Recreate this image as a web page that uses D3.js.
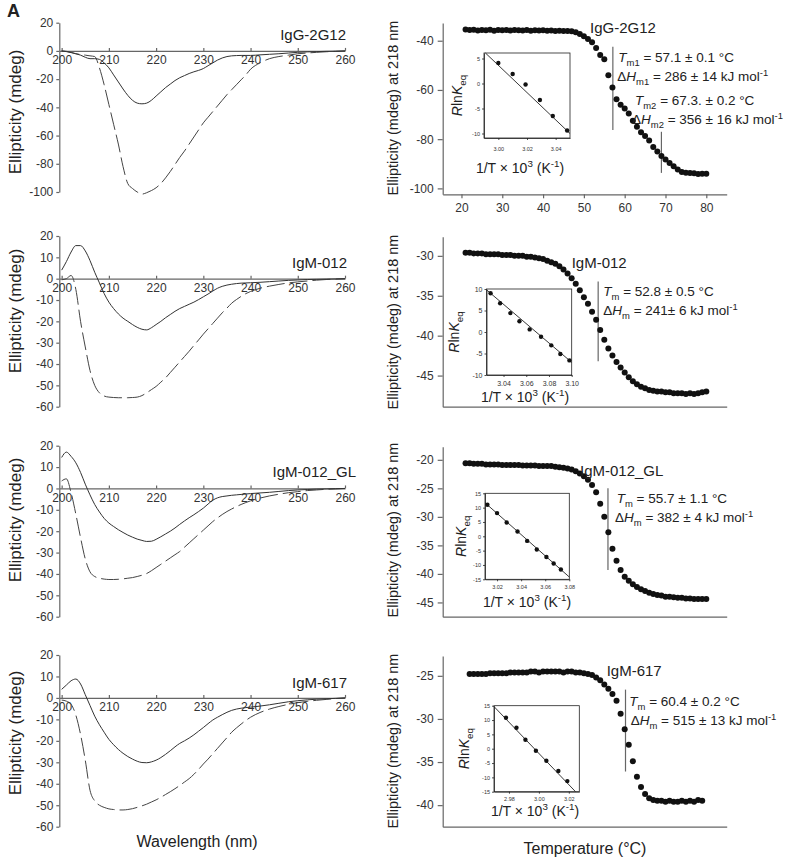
<!DOCTYPE html>
<html>
<head>
<meta charset="utf-8">
<script src="https://cdn.jsdelivr.net/npm/d3@7"></script>
<style>
  body { margin: 0; background: #fff; }
  svg text { font-family: "Liberation Sans", Arial, sans-serif; fill: #222; }
  .axis path, .axis line { stroke: #666; stroke-width: 1.2; }
  .axis text { font-size: 12px; fill: #333; }
  .inset path, .inset line { stroke: #222; stroke-width: 0.8; }
  .inset text { fill: #333; }
</style>
</head>
<body>
<svg id="fig" width="785" height="859"></svg>
<script>
// ---------- data ----------
const panelNames = ["IgG-2G12", "IgM-012", "IgM-012_GL", "IgM-617"];

const wavelength = [200,201,202,203,204,205,206,207,208,209,210,211,212,213,214,215,216,217,218,219,
  220,221,222,223,224,225,226,227,228,229,230,231,232,233,234,235,236,237,238,239,240,
  242,244,246,248,250,252,254,256,258,260];
const wlTicks = [200, 210, 220, 230, 240, 250, 260];

// solid = native, dashed = second spectrum
const cdSolid1 = [0,-0.5,-1.2,-2,-3,-4.5,-5.5,-5.5,-6,-8.5,
  -12,-17,-22,-27,-31.5,-35,-37,-37.5,-37,-35,
  -32,-29,-26,-23.5,-21,-19,-17.5,-16,-14.8,-13.8,
  -12.5,-10.5,-8.5,-6.5,-5,-4,-3.5,-3.3,-3.2,-3.2,
  -3.2,-2.8,-2.4,-2,-1.5,-1,-0.7,-0.5,-0.3,-0.2,0];
const cdDashed1 = [0,-0.3,-1,-2,-2.5,-3,-3.5,-4,-12,-24,
  -38,-52,-66,-82,-94,-97.5,-100,-101.5,-100.5,-99,
  -97,-94,-90,-85.5,-80.5,-75.5,-71,-66,-61,-56,
  -51,-47,-43,-39,-35,-31,-27.5,-24,-20.5,-17,
  -13,-8.5,-5.5,-4,-3,-2,-1.5,-1,-0.6,-0.3,0];

const cdSolid2 = [4,8,12.5,15.5,15.5,13,8.5,3,-2,-7,
  -11,-14,-16.5,-18.5,-20,-21.5,-22.8,-23.7,-24,-23,
  -21.5,-20,-18.3,-16.8,-15.3,-14,-13,-12,-11,-9.8,
  -8.5,-7.2,-5.8,-4.5,-3.6,-3,-2.6,-2.3,-2.1,-2,
  -1.9,-1.7,-1.4,-1.1,-0.8,-0.6,-0.4,-0.3,-0.2,-0.1,0];
const cdDashed2 = [-0.5,0,1.5,-5,-20,-32,-43,-50,-53.5,-55,
  -55.5,-55.7,-55.8,-55.8,-55.8,-55.7,-55.5,-54.8,-53.5,-52,
  -50.5,-48.5,-46.5,-44,-41.5,-39,-36.5,-34,-31.3,-28.7,
  -26,-23.5,-21,-18.5,-16,-13.8,-11.5,-9.8,-8.3,-7,
  -6,-4.5,-3.5,-2.7,-2,-1.5,-1.1,-0.7,-0.4,-0.2,0];

const cdSolid3 = [14.5,17,15,12,7.5,2,-3,-7.5,-11,-14,
  -16.2,-17.8,-19.3,-20.6,-21.8,-22.8,-23.7,-24.3,-24.8,-24.7,
  -23.8,-22.6,-21.3,-20,-18.5,-16.8,-15.2,-13.7,-12.3,-10.8,
  -9.2,-7.3,-5.5,-4.4,-3.8,-3.5,-3.2,-3,-2.8,-2.6,
  -2.4,-2.1,-1.8,-1.4,-1,-0.7,-0.5,-0.3,-0.2,-0.1,0];
const cdDashed3 = [3.5,4.5,-2,-12,-23,-33,-39,-41.2,-42,-42.4,
  -42.6,-42.6,-42.5,-42.3,-42,-41.7,-41.2,-40.6,-39.8,-38.5,
  -37,-35.5,-34,-32.5,-31,-29.5,-27.5,-25.5,-23.5,-21.5,
  -19.5,-17.5,-15.5,-13.8,-12.2,-10.8,-9.6,-8.5,-7.5,-6.6,
  -5.8,-4.5,-3.5,-2.7,-2,-1.5,-1,-0.7,-0.4,-0.2,0];

const cdSolid4 = [4,6,8,8.8,6.5,1.5,-3.5,-8.5,-12.5,-16,
  -19.3,-21.8,-24,-25.8,-27.3,-28.5,-29.5,-30.1,-30.2,-29.8,
  -29,-27.8,-26.3,-24.6,-22.8,-21.2,-20,-18.7,-17.2,-15.5,
  -13.8,-12,-10.3,-9,-7.8,-6.7,-5.8,-5.2,-4.8,-4.5,
  -4.3,-3.8,-3.2,-2.5,-1.8,-1.3,-0.9,-0.6,-0.4,-0.2,0];
const cdDashed4 = [-1,-1.5,-3,-8,-17,-29,-43,-48,-50,-51,
  -51.7,-52,-52.2,-52.2,-52,-51.6,-51,-50.3,-49.5,-48.5,
  -47.5,-46.3,-45,-43.7,-42.3,-40.8,-39.2,-37.6,-35.6,-33.3,
  -30.8,-28.5,-26,-23.5,-21,-18.5,-16,-14,-12.2,-10.5,
  -9,-6.8,-5.2,-4,-3,-2.2,-1.6,-1.1,-0.7,-0.3,0];

const cdTicks1 = [20, 0, -20, -40, -60, -80, -100];
const cdTicks2 = [20, 10, 0, -10, -20, -30, -40, -50, -60];

// thermal melts, ellipticity at 218 nm
const temps = [21,22,23,24,25,26,27,28,29,30,31,32,33,34,35,36,37,38,39,40,
  41,42,43,44,45,46,47,48,49,50,51,52,53,54,55,56,57,58,59,60,
  61,62,63,64,65,66,67,68,69,70,71,72,73,74,75,76,77,78,79,80];
const temps4 = [22,23,24,25,26,27,28,29,30,31,32,33,34,35,36,37,38,39,40,41,
  42,43,44,45,46,47,48,49,50,51,52,53,54,55,56,57,58,59,60,61,
  62,63,64,65,66,67,68,69,70,71,72,73,74,75,76,77,78,79];

const melt1 = [-35.4,-35.6,-35.5,-35.8,-35.6,-35.7,-35.5,-35.9,-35.6,-35.7,
  -35.6,-35.8,-35.6,-35.7,-35.8,-35.6,-35.9,-35.7,-35.8,-35.7,
  -35.9,-35.8,-36.0,-35.9,-36.1,-36.0,-36.2,-36.6,-37.3,-38.2,
  -39.3,-40.6,-43.0,-45.8,-47.5,-54.0,-59.0,-63.8,-66.0,-67.5,
  -69.6,-72.5,-75.0,-77.2,-78.7,-80.5,-83.2,-85.0,-86.8,-88.3,
  -89.7,-91.0,-92.3,-93.3,-93.6,-93.7,-93.8,-94.2,-94.0,-94.1];
const melt2 = [-29.6,-29.6,-29.7,-29.7,-29.7,-29.8,-29.8,-29.8,-29.8,-29.9,
  -29.9,-29.9,-30.0,-30.0,-30.0,-30.1,-30.1,-30.2,-30.3,-30.4,
  -30.6,-30.8,-31.0,-31.3,-31.7,-32.2,-32.8,-33.5,-34.3,-35.2,
  -36.0,-37.0,-38.0,-39.3,-40.5,-41.6,-42.5,-43.3,-44.0,-44.6,
  -45.2,-45.7,-46.1,-46.4,-46.6,-46.8,-46.9,-47.0,-47.0,-47.1,
  -47.1,-47.2,-47.2,-47.2,-47.3,-47.2,-47.3,-47.2,-47.1,-47.0];
const melt3 = [-20.6,-20.6,-20.7,-20.7,-20.7,-20.8,-20.8,-20.8,-20.8,-20.9,
  -20.9,-20.9,-20.9,-20.9,-21.0,-21.0,-21.0,-21.0,-21.1,-21.1,
  -21.1,-21.1,-21.2,-21.3,-21.4,-21.5,-21.7,-22.0,-22.4,-22.9,
  -23.5,-24.4,-25.7,-27.7,-30.0,-32.7,-35.6,-37.7,-39.3,-40.5,
  -41.2,-41.8,-42.3,-42.7,-43.0,-43.3,-43.5,-43.7,-43.8,-44.0,
  -44.0,-44.1,-44.2,-44.2,-44.3,-44.3,-44.4,-44.4,-44.4,-44.4];
const melt4 = [-24.8,-24.8,-24.8,-24.8,-24.8,-24.7,-24.7,-24.7,-24.7,-24.7,
  -24.6,-24.6,-24.6,-24.6,-24.6,-24.5,-24.5,-24.6,-24.5,-24.5,
  -24.5,-24.5,-24.5,-24.6,-24.5,-24.5,-24.6,-24.6,-24.7,-24.8,
  -24.9,-25.2,-25.5,-26.0,-26.5,-27.1,-27.9,-29.4,-31.2,-33.0,
  -34.9,-36.7,-37.9,-38.7,-39.2,-39.4,-39.5,-39.5,-39.6,-39.5,
  -39.6,-39.6,-39.5,-39.6,-39.5,-39.6,-39.4,-39.5];

const meltTicks1 = [-40, -60, -80, -100];
const meltTicks2 = [-30, -35, -40, -45];
const meltTicks3 = [-20, -25, -30, -35, -40, -45];
const meltTicks4 = [-25, -30, -35, -40];
const tempTicks = [20, 30, 40, 50, 60, 70, 80];

// Tm marker lines: temperature, top and bottom ellipticity
const tmLineT1 = [57.1, 69.0], tmLineTop1 = [-42.4, -77.0], tmLineBot1 = [-76.3, -93.7];
const tmLineT2 = [53.5], tmLineTop2 = [-33.2], tmLineBot2 = [-43.2];
const tmLineT3 = [55.9], tmLineTop3 = [-25.0], tmLineBot3 = [-39.3];
const tmLineT4 = [60.2], tmLineTop4 = [-26.6], tmLineBot4 = [-36.1];

// van't Hoff insets: 1/T x 10^3 and R ln Keq
const vhX1 = [3.000, 3.010, 3.019, 3.029, 3.038, 3.048];
const vhY1 = [4.1, 1.9, -0.2, -3.3, -6.5, -9.4];
const fitX1 = [2.991, 3.05], fitY1 = [6.1, -10.0];
const vhX2 = [3.0286, 3.037, 3.046, 3.054, 3.063, 3.073, 3.082, 3.090, 3.098];
const vhY2 = [9.0, 6.7, 4.4, 2.5, 0.6, -1.1, -3.1, -5.1, -6.6];
const fitX2 = [3.025, 3.10], fitY2 = [9.8, -7.05];
const vhX3 = [3.012, 3.020, 3.028, 3.037, 3.045, 3.053, 3.061, 3.067, 3.073];
const vhY3 = [11.0, 8.1, 4.8, 1.7, -1.6, -4.6, -7.2, -9.5, -11.6];
const fitX3 = [3.01, 3.08], fitY3 = [11.7, -14.2];
const vhX4 = [2.978, 2.985, 2.991, 2.998, 3.005, 3.013, 3.019];
const vhY4 = [10.8, 7.3, 3.1, -0.7, -4.2, -7.8, -11.3];
const fitX4 = [2.97, 3.0245], fitY4 = [14.7, -15.0];

const insetXTicks1 = [3.00, 3.02, 3.04], insetYTicks1 = [5, 0, -5, -10];
const insetXTicks2 = [3.04, 3.06, 3.08, 3.10], insetYTicks2 = [10, 5, 0, -5, -10];
const insetXTicks3 = [3.02, 3.04, 3.06, 3.08], insetYTicks3 = [15, 10, 5, 0, -5, -10, -15];
const insetXTicks4 = [2.98, 3.00, 3.02], insetYTicks4 = [15, 10, 5, 0, -5, -10, -15];

// fitted parameters as printed
const tmText1 = ["m1", "57.1 ± 0.1", "m2", "67.3. ± 0.2"];
const dhText1 = ["m1", "286 ± 14", "m2", "356 ± 16"];
const tmText2 = ["m", "52.8 ± 0.5"], dhText2 = ["m", "241± 6"];
const tmText3 = ["m", "55.7 ± 1.1"], dhText3 = ["m", "382 ± 4"];
const tmText4 = ["m", "60.4 ± 0.2"], dhText4 = ["m", "515 ± 13"];

// ---------- layout ----------
const cdLayout = [
  {top: 22.7, bottom: 192, yMin: -100, yMax: 20, labelX: 346, labelY: 40, titleY: 112},
  {top: 236, bottom: 406.7, yMin: -60, yMax: 20, labelX: 347, labelY: 268, titleY: 311},
  {top: 445.7, bottom: 616.7, yMin: -60, yMax: 20, labelX: 356, labelY: 476.5, titleY: 520},
  {top: 655, bottom: 826.7, yMin: -60, yMax: 20, labelX: 347, labelY: 688, titleY: 733}
];
const meltLayout = [
  {top: 23, bottom: 194.3, yDom: [-102.4, -32.8], titleY: 108, labelX: 590, labelY: 33,
   ann: [[618.3, 62], [617.3, 81], [635, 105], [632, 124]]},
  {top: 236.7, bottom: 406.7, yDom: [-48.9, -27.6], titleY: 322, labelX: 571.7, labelY: 268.3,
   ann: [[603.3, 296], [603.3, 315]]},
  {top: 446.7, bottom: 616.7, yDom: [-47.5, -17.7], titleY: 530, labelX: 580, labelY: 476,
   ann: [[616.7, 503], [615, 522]]},
  {top: 656, bottom: 826.7, yDom: [-42.5, -22.7], titleY: 741, labelX: 606.7, labelY: 676,
   ann: [[629.3, 706], [630.7, 725]]}
];
const insetLayout = [
  {x0: 484, x1: 570, y0: 53, y1: 138, xDom: [2.99, 3.05], yDom: [-10.9, 6.1], font: 5.5, xPad: 7, titleX: 520, titleY: 173, labX: 462},
  {x0: 486.5, x1: 571.7, y0: 289, y1: 375, xDom: [3.025, 3.10], yDom: [-10, 10], font: 7, xPad: 4, titleX: 525, titleY: 402, labX: 459},
  {x0: 485, x1: 569.3, y0: 493.3, y1: 579.3, xDom: [3.01, 3.08], yDom: [-15, 15], font: 5.5, xPad: 4, titleX: 527, titleY: 607, labX: 466},
  {x0: 494, x1: 579.3, y0: 705.7, y1: 791.7, xDom: [2.97, 3.027], yDom: [-15, 15], font: 5.5, xPad: 3, titleX: 535, titleY: 816, labX: 469}
];

const cdSets = [
  {solid: cdSolid1, dashed: cdDashed1, ticks: cdTicks1},
  {solid: cdSolid2, dashed: cdDashed2, ticks: cdTicks2},
  {solid: cdSolid3, dashed: cdDashed3, ticks: cdTicks2},
  {solid: cdSolid4, dashed: cdDashed4, ticks: cdTicks2}
];
const meltSets = [
  {t: temps, v: melt1, ticks: meltTicks1, lt: tmLineT1, lTop: tmLineTop1, lBot: tmLineBot1, tm: tmText1, dh: dhText1},
  {t: temps, v: melt2, ticks: meltTicks2, lt: tmLineT2, lTop: tmLineTop2, lBot: tmLineBot2, tm: tmText2, dh: dhText2},
  {t: temps, v: melt3, ticks: meltTicks3, lt: tmLineT3, lTop: tmLineTop3, lBot: tmLineBot3, tm: tmText3, dh: dhText3},
  {t: temps4, v: melt4, ticks: meltTicks4, lt: tmLineT4, lTop: tmLineTop4, lBot: tmLineBot4, tm: tmText4, dh: dhText4}
];
const insetSets = [
  {x: vhX1, y: vhY1, fx: fitX1, fy: fitY1, xt: insetXTicks1, yt: insetYTicks1},
  {x: vhX2, y: vhY2, fx: fitX2, fy: fitY2, xt: insetXTicks2, yt: insetYTicks2},
  {x: vhX3, y: vhY3, fx: fitX3, fy: fitY3, xt: insetXTicks3, yt: insetYTicks3},
  {x: vhX4, y: vhY4, fx: fitX4, fy: fitY4, xt: insetXTicks4, yt: insetYTicks4}
];

const svg = d3.select("#fig");

// text with italic / sub / sup pieces
function rich(sel, x, y, parts, size, anchor) {
  const t = sel.append("text").attr("x", x).attr("y", y)
    .attr("text-anchor", anchor || "start").style("font-size", size + "px");
  let shift = 0;
  parts.forEach(([s, k]) => {
    const target = k === "sub" ? size * 0.3 : k === "sup" ? -size * 0.4 : 0;
    const ts = t.append("tspan").attr("dy", target - shift).text(s);
    shift = target;
    if (k === "sub" || k === "sup") ts.style("font-size", (size * 0.7) + "px");
    if (k === "i") ts.style("font-style", "italic");
  });
  return t;
}

// ---------- left column: CD spectra ----------
const xW = d3.scaleLinear().domain([199.5, 260]).range([59.3, 345]);

cdSets.forEach((set, i) => {
  const lay = cdLayout[i];
  const y = d3.scaleLinear().domain([lay.yMin, lay.yMax]).range([lay.bottom, lay.top]);
  const g = svg.append("g");

  g.append("g").attr("class", "axis")
    .attr("transform", `translate(${xW(199.5)},0)`)
    .call(d3.axisLeft(y).tickValues(set.ticks).tickSize(3).tickPadding(3)
      .tickSizeOuter(0).tickFormat(d => String(d)));

  g.append("g").attr("class", "axis")
    .attr("transform", `translate(0,${y(0)})`)
    .call(d3.axisBottom(xW).tickValues(wlTicks).tickSize(-3).tickPadding(5).tickSizeOuter(0));

  const line = d3.line().x((d, k) => xW(wavelength[k])).y(d => y(d)).curve(d3.curveMonotoneX);
  g.append("path").datum(set.dashed).attr("d", line)
    .attr("fill", "none").attr("stroke", "#444").attr("stroke-width", 1)
    .attr("stroke-dasharray", "18,5");
  g.append("path").datum(set.solid).attr("d", line)
    .attr("fill", "none").attr("stroke", "#333").attr("stroke-width", 1);

  g.append("text").attr("x", lay.labelX).attr("y", lay.labelY)
    .attr("text-anchor", "end").style("font-size", "15px").text(panelNames[i]);

  g.append("text")
    .attr("transform", `translate(21,${lay.titleY}) rotate(-90)`)
    .attr("text-anchor", "middle").style("font-size", "17px")
    .text("Ellipticity (mdeg)");
});

// ---------- right column: thermal melts ----------
const xT = d3.scaleLinear().domain([15.4, 85]).range([442.7, 726.7]);

meltSets.forEach((set, i) => {
  const lay = meltLayout[i];
  const y = d3.scaleLinear().domain(lay.yDom).range([lay.bottom, lay.top]);
  const g = svg.append("g");

  g.append("g").attr("class", "axis")
    .attr("transform", `translate(${xT(15.4)},0)`)
    .call(d3.axisLeft(y).tickValues(set.ticks).tickSize(5).tickPadding(4)
      .tickSizeOuter(0).tickFormat(d => String(d)));

  g.append("g").attr("class", "axis")
    .attr("transform", `translate(0,${lay.bottom})`)
    .call(d3.axisBottom(xT).tickValues(i === 0 ? tempTicks : []).tickSize(4).tickPadding(5).tickSizeOuter(0));

  g.append("text")
    .attr("transform", `translate(398,${lay.titleY}) rotate(-90)`)
    .attr("text-anchor", "middle").style("font-size", "14.5px")
    .text("Ellipticity (mdeg) at 218 nm");

  // Tm marker lines
  g.selectAll("line.tm").data(set.lt).join("line").attr("class", "tm")
    .attr("x1", d => xT(d)).attr("x2", d => xT(d))
    .attr("y1", (d, k) => y(set.lTop[k])).attr("y2", (d, k) => y(set.lBot[k]))
    .attr("stroke", "#666").attr("stroke-width", 1.2);

  g.selectAll("circle.pt").data(set.v).join("circle").attr("class", "pt")
    .attr("cx", (d, k) => xT(set.t[k])).attr("cy", d => y(d))
    .attr("r", 3).attr("fill", "#111");

  g.append("text").attr("x", lay.labelX).attr("y", lay.labelY)
    .style("font-size", "15px").text(panelNames[i]);

  for (let k = 0; k < set.tm.length; k += 2) {
    const a = lay.ann[k], b = lay.ann[k + 1];
    rich(g, a[0], a[1], [["T", "i"], [set.tm[k], "sub"], [" = " + set.tm[k + 1] + " °C", ""]], 13.5);
    rich(g, b[0], b[1], [["Δ", ""], ["H", "i"], [set.dh[k], "sub"],
      [" = " + set.dh[k + 1] + " kJ mol", ""], ["-1", "sup"]], 13.5);
  }
});

// ---------- van't Hoff insets ----------
insetSets.forEach((set, i) => {
  const lay = insetLayout[i];
  const x = d3.scaleLinear().domain(lay.xDom).range([lay.x0, lay.x1]);
  const y = d3.scaleLinear().domain(lay.yDom).range([lay.y1, lay.y0]);
  const g = svg.append("g");

  g.append("rect").attr("x", lay.x0).attr("y", lay.y0)
    .attr("width", lay.x1 - lay.x0).attr("height", lay.y1 - lay.y0)
    .attr("fill", "#fff").attr("stroke", "#222").attr("stroke-width", 0.8);

  const ax = g.append("g").attr("class", "inset")
    .attr("transform", `translate(0,${lay.y1})`)
    .call(d3.axisBottom(x).tickValues(set.xt).tickSize(2).tickPadding(lay.xPad)
      .tickSizeOuter(0).tickFormat(d => d.toFixed(2)));
  const ay = g.append("g").attr("class", "inset")
    .attr("transform", `translate(${lay.x0},0)`)
    .call(d3.axisLeft(y).tickValues(set.yt).tickSize(2).tickPadding(2)
      .tickSizeOuter(0).tickFormat(d => String(d)));
  ax.selectAll("text").style("font-size", lay.font + "px");
  ay.selectAll("text").style("font-size", lay.font + "px");

  g.append("line")
    .attr("x1", x(set.fx[0])).attr("y1", y(set.fy[0]))
    .attr("x2", x(set.fx[1])).attr("y2", y(set.fy[1]))
    .attr("stroke", "#222").attr("stroke-width", 0.9);

  g.selectAll("circle").data(set.y).join("circle")
    .attr("cx", (d, k) => x(set.x[k])).attr("cy", d => y(d))
    .attr("r", 2.2).attr("fill", "#111");

  rich(g, lay.titleX, lay.titleY,
    [["1/T × 10", ""], ["3", "sup"], [" (K", ""], ["-1", "sup"], [")", ""]], 14, "middle");

  const yl = g.append("g").attr("transform", `translate(${lay.labX},${(lay.y0 + lay.y1) / 2}) rotate(-90)`);
  rich(yl, 0, 0, [["R", "i"], ["ln", ""], ["K", "i"], ["eq", "sub"]], 14, "middle");
});

// ---------- shared titles ----------
svg.append("text").attr("x", 7).attr("y", 17)
  .style("font-size", "18px").style("font-weight", "bold").text("A");
svg.append("text").attr("x", 197).attr("y", 847).attr("text-anchor", "middle")
  .style("font-size", "16px").text("Wavelength (nm)");
svg.append("text").attr("x", 585).attr("y", 854).attr("text-anchor", "middle")
  .style("font-size", "16px").text("Temperature (°C)");
</script>
</body>
</html>
